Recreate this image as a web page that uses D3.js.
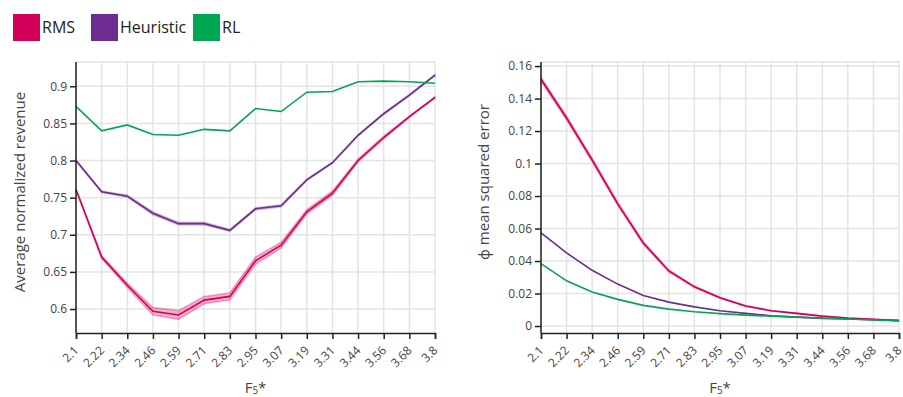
<!DOCTYPE html>
<html>
<head>
<meta charset="utf-8">
<script src="https://cdn.jsdelivr.net/npm/d3@7"></script>
<style>
  html, body { margin: 0; padding: 0; background: #fff; }
  svg { display: block; font-family: "Open Sans", "Noto Sans", sans-serif; }
  .grid line { stroke: #e4e4e4; stroke-width: 1.5; }
  .axis path, .axis line { stroke: #222; stroke-width: 1.5; }
  .axis text { fill: #444; font-size: 12px; font-family: "Open Sans", "Noto Sans", sans-serif; }
</style>
</head>
<body>
<svg id="chart" width="903" height="397"></svg>
<script>
// Fs* values along the x axis
const fsLabels = ["2.1", "2.22", "2.34", "2.46", "2.59", "2.71", "2.83", "2.95",
                  "3.07", "3.19", "3.31", "3.44", "3.56", "3.68", "3.8"];

const seriesNames = ["RMS", "Heuristic", "RL"];
const seriesColors = ["#d3005a", "#6d2c8f", "#00a651"];

// Average normalized revenue
const revRMS = [0.761, 0.670, 0.632, 0.597, 0.592, 0.612, 0.617, 0.665, 0.686, 0.731,
                0.756, 0.800, 0.831, 0.859, 0.885];
const revHeuristic = [0.800, 0.758, 0.752, 0.729, 0.715, 0.715, 0.706, 0.735, 0.739, 0.774,
                      0.797, 0.834, 0.863, 0.888, 0.915];
const revRL = [0.873, 0.840, 0.848, 0.835, 0.834, 0.842, 0.840, 0.870, 0.866, 0.892,
               0.893, 0.906, 0.907, 0.906, 0.904];
// half-width of the shaded spread around each revenue line
const revSpreadRMS = [0.001, 0.002, 0.003, 0.005, 0.006, 0.005, 0.005, 0.005, 0.004, 0.003,
                      0.003, 0.002, 0.002, 0.001, 0.001];
const revSpreadHeuristic = [0.001, 0.001, 0.0015, 0.002, 0.002, 0.002, 0.0015, 0.0015, 0.0015, 0.001,
                            0.001, 0.001, 0.001, 0.001, 0.001];

// phi mean squared error
const mseRMS = [0.1519, 0.1280, 0.1022, 0.0752, 0.0511, 0.0339, 0.0241, 0.0174, 0.0123, 0.0094,
                0.0078, 0.0061, 0.0049, 0.0041, 0.0033];
const mseHeuristic = [0.0574, 0.0450, 0.0343, 0.0258, 0.0188, 0.0147, 0.0118, 0.0094, 0.0078, 0.0063,
                      0.0055, 0.0047, 0.0043, 0.0039, 0.0033];
const mseRL = [0.0384, 0.0278, 0.0210, 0.0164, 0.0127, 0.0104, 0.0088, 0.0076, 0.0067, 0.0061,
               0.0055, 0.0049, 0.0043, 0.0037, 0.0033];
const mseSpreadRMS = [0.0012, 0.0012, 0.0011, 0.0010, 0.0009, 0.0007, 0.0005, 0.0004, 0.0003, 0.0002,
                      0.0002, 0.0001, 0.0001, 0.0001, 0.0001];

const revTicks = [0.6, 0.65, 0.7, 0.75, 0.8, 0.85, 0.9];
const mseTicks = [0, 0.02, 0.04, 0.06, 0.08, 0.1, 0.12, 0.14, 0.16];

const svg = d3.select("#chart");

// legend
const legend = svg.append("g");
const legendX = [13, 91, 193];
seriesNames.forEach((name, i) => {
  legend.append("rect")
    .attr("x", legendX[i]).attr("y", 14).attr("width", 27).attr("height", 27)
    .attr("fill", seriesColors[i]);
  legend.append("text")
    .attr("x", legendX[i] + 29).attr("y", 33)
    .attr("font-size", 16).attr("fill", "#222")
    .text(name);
});

function panel(opts) {
  const { x0, x1, y0, y1, domain, ticks, lines, bands, yTitle, yTitleX, yTitleY } = opts;
  const g = svg.append("g");
  const x = d3.scalePoint().domain(fsLabels).range([x0, x1]).padding(0);
  const y = d3.scaleLinear().domain(domain).range([y1, y0]);

  // grid
  const grid = g.append("g").attr("class", "grid");
  grid.selectAll(".gx").data(fsLabels).join("line")
    .attr("x1", d => x(d)).attr("x2", d => x(d)).attr("y1", y0).attr("y2", y1);
  grid.selectAll(".gy").data(ticks).join("line")
    .attr("x1", x0).attr("x2", x1).attr("y1", d => y(d)).attr("y2", d => y(d));
  grid.append("line").attr("x1", x0).attr("x2", x1).attr("y1", y0).attr("y2", y0);

  // shaded spreads
  bands.forEach(b => {
    const area = d3.area()
      .x((d, i) => x(fsLabels[i]))
      .y0((d, i) => y(d - b.spread[i]))
      .y1((d, i) => y(d + b.spread[i]));
    g.append("path").datum(b.values).attr("d", area)
      .attr("fill", b.color).attr("fill-opacity", b.opacity)
      .attr("stroke", b.color).attr("stroke-opacity", b.opacity).attr("stroke-width", 1.5);
  });

  // lines
  const line = d3.line().x((d, i) => x(fsLabels[i])).y(d => y(d));
  lines.forEach(l => {
    g.append("path").datum(l.values).attr("d", line)
      .attr("fill", "none").attr("stroke", l.color).attr("stroke-width", 1.6);
  });

  // axes
  const xAxis = g.append("g").attr("class", "axis")
    .attr("transform", `translate(0,${y1})`)
    .call(d3.axisBottom(x).tickSizeOuter(0).tickSize(6));
  xAxis.selectAll("text")
    .attr("text-anchor", "end")
    .attr("dx", "0.1em").attr("dy", "0.55em")
    .attr("transform", "translate(-9,8) rotate(-45)");

  g.append("g").attr("class", "axis")
    .attr("transform", `translate(${x0},0)`)
    .call(d3.axisLeft(y).tickValues(ticks).tickFormat(d => String(+d.toFixed(2))).tickSize(6).tickSizeOuter(0))
    .select(".domain").attr("d", `M0,${y0}V${y1}`);

  // axis titles
  g.append("text")
    .attr("transform", `translate(${yTitleX},${yTitleY}) rotate(-90)`)
    .attr("text-anchor", "middle").attr("font-size", 15).attr("fill", "#444")
    .text(yTitle);

  const xt = g.append("text")
    .attr("x", (x0 + x1) / 2).attr("y", 393)
    .attr("text-anchor", "middle").attr("font-size", 15).attr("fill", "#444");
  xt.append("tspan").text("F");
  xt.append("tspan").attr("font-size", 10).attr("dy", 1).text("5");
  xt.append("tspan").attr("dy", -1).text("*");
}

panel({
  x0: 76, x1: 435, y0: 62, y1: 333,
  domain: [0.5677, 0.9327], ticks: revTicks,
  bands: [
    { values: revRMS, spread: revSpreadRMS, color: seriesColors[0], opacity: 0.3 },
    { values: revHeuristic, spread: revSpreadHeuristic, color: seriesColors[1], opacity: 0.25 }
  ],
  lines: [
    { values: revRMS, color: seriesColors[0] },
    { values: revHeuristic, color: seriesColors[1] },
    { values: revRL, color: seriesColors[2] }
  ],
  yTitle: "Average normalized revenue", yTitleX: 25, yTitleY: 192
});

panel({
  x0: 541, x1: 899, y0: 62, y1: 333,
  domain: [-0.0043, 0.1625], ticks: mseTicks,
  bands: [
    { values: mseRMS, spread: mseSpreadRMS, color: seriesColors[0], opacity: 0.3 }
  ],
  lines: [
    { values: mseRMS, color: seriesColors[0] },
    { values: mseHeuristic, color: seriesColors[1] },
    { values: mseRL, color: seriesColors[2] }
  ],
  yTitle: "\u03D5 mean squared error", yTitleX: 489, yTitleY: 182
});
</script>
</body>
</html>
